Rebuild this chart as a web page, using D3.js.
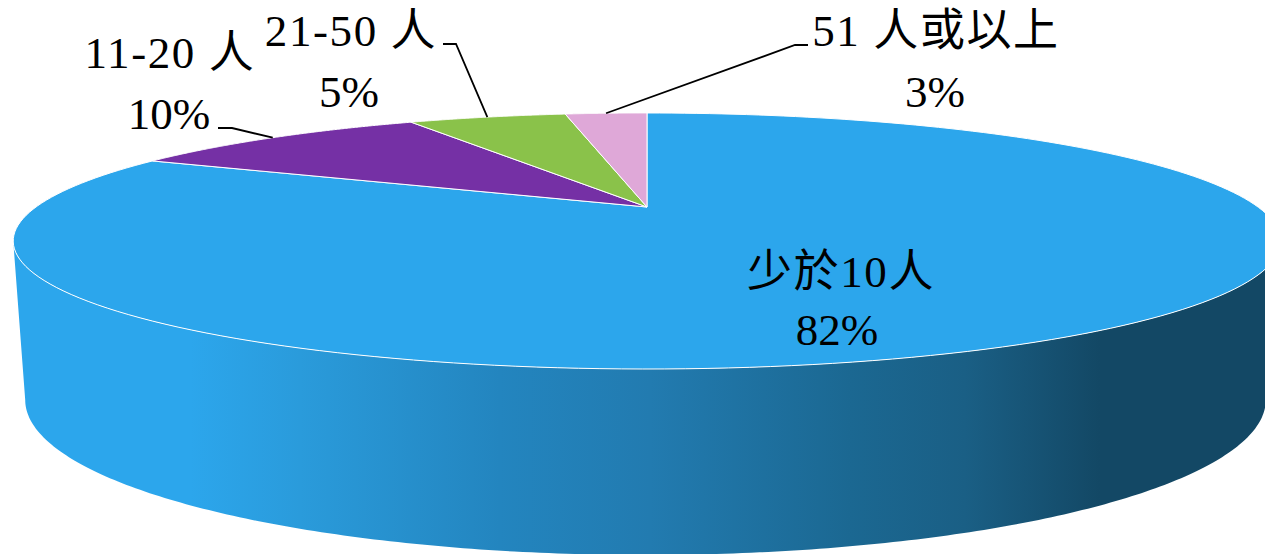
<!DOCTYPE html>
<html>
<head>
<meta charset="utf-8">
<title>pie</title>
<script src="https://cdnjs.cloudflare.com/ajax/libs/d3/7.8.5/d3.min.js"></script>
<style>
html, body { margin: 0; padding: 0; background: #fff; overflow: hidden; }
svg { display: block; }
text { font-family: "Liberation Serif", "Noto Sans CJK TC", serif; font-size: 45px; fill: #000; }
text.name { letter-spacing: 1.6px; }
</style>
</head>
<body>
<div id="chart"></div>
<script>
// data
const categories = ["少於10人", "11-20 人", "21-50 人", "51 人或以上"];
const values = [82.1, 10, 5.2, 2.7];
const colors = ["#2CA6EC", "#7530A5", "#8AC24A", "#DFA8D8"];

// label layout, same order as categories: name x / y, percent x / y
const labelPos = [
  { nx: 841, ny: 287, px: 837, py: 345 },
  { nx: 170, ny: 68, px: 169, py: 129 },
  { nx: 351, ny: 46, px: 349, py: 107 },
  { nx: 936, ny: 46, px: 935, py: 107 }
];
// elbow of the leader lines (the first one has none)
const leaders = [
  null,
  [[218, 128], [232, 128]],
  [[443, 44], [456, 44]],
  [[808, 45], [795, 45]]
];

const wallStops = [
  [190, "#2CA6EC"], [300, "#2A9BDB"], [500, "#2385BF"], [650, "#227BB0"],
  [850, "#1B6892"], [965, "#1A5F85"], [1100, "#134865"]
];

const width = 1265, height = 554;

// perspective of the disc: same tilt for both rims
const tilt = 0.2656;
const topRim = { cx: 647, w: 611, a: -64, b: 207 };
const lowRim = { cx: 645.5, w: 598, a: -48.8, b: 358.8 };

const rim = (plane, t) => {
  let d = 1 + tilt * Math.cos(t);
  return [plane.cx + plane.w * Math.sin(t) / d, (plane.a * Math.cos(t) + plane.b) / d];
};
const arcPts = (plane, t0, t1, n) => d3.range(n + 1).map(i => rim(plane, t0 + (t1 - t0) * i / n));

let svg = d3.select("#chart").append("svg")
  .attr("width", width)
  .attr("height", height);

let x = d3.scaleLinear().domain([0, width]).range([0, 1]);
let grad = svg.append("defs").append("linearGradient")
  .attr("id", "wall")
  .attr("gradientUnits", "userSpaceOnUse")
  .attr("x1", 0).attr("x2", width).attr("y1", 0).attr("y2", 0);
grad.selectAll("stop").data(wallStops).enter().append("stop")
  .attr("offset", d => x(d[0]))
  .attr("stop-color", d => d[1]);

let line = d3.line();
let pie = d3.pie().sort(null)(values);

// side wall, between the two extreme points of the front rim
let tSide = Math.acos(-tilt);
let wall = arcPts(topRim, tSide, 2 * Math.PI - tSide, 240)
  .concat(arcPts(lowRim, 2 * Math.PI - tSide, tSide, 240));
svg.append("path")
  .attr("d", line(wall) + "Z")
  .attr("fill", "url(#wall)");

// top face
svg.selectAll("path.slice")
  .data(pie)
  .enter()
  .append("path")
  .attr("class", "slice")
  .attr("d", d => line([[topRim.cx, topRim.b]].concat(arcPts(topRim, d.startAngle, d.endAngle, 200))) + "Z")
  .attr("fill", (d, i) => colors[i])
  .attr("stroke", "#fff")
  .attr("stroke-width", 1)
  .attr("stroke-linejoin", "round");

// leader lines
svg.selectAll("path.leader")
  .data(pie.filter((d, i) => leaders[i]))
  .enter()
  .append("path")
  .attr("class", "leader")
  .attr("d", d => line(leaders[d.index].concat([rim(topRim, (d.startAngle + d.endAngle) / 2)])))
  .attr("fill", "none")
  .attr("stroke", "#000")
  .attr("stroke-width", 1.8);

// labels
let fmt = d3.format(".0f");
categories.forEach((c, i) => {
  svg.append("text").attr("class", "name").attr("x", labelPos[i].nx).attr("y", labelPos[i].ny)
    .attr("text-anchor", "middle").text(c);
  svg.append("text").attr("x", labelPos[i].px).attr("y", labelPos[i].py)
    .attr("text-anchor", "middle").text(fmt(values[i]) + "%");
});
</script>
</body>
</html>
